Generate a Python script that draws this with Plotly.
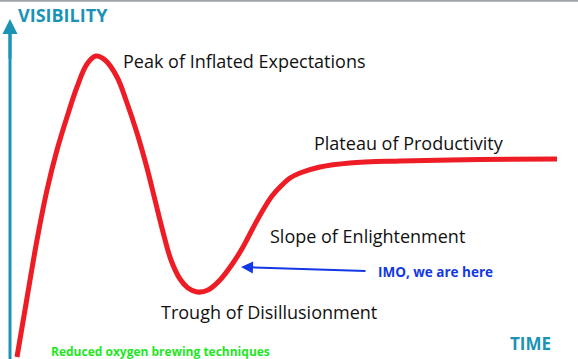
import plotly.graph_objects as go

W, H = 578, 359

# Hype curve (time, visibility-from-top in px)
time = [17, 27, 37, 47, 57, 67, 77, 87, 96, 105, 117, 127, 137, 147, 155, 163, 171,
        180, 188, 197, 208, 220, 233, 243, 253, 263, 272, 281, 290, 300, 320, 350, 400, 480, 557]
visibility_px = [357, 298, 240, 190, 150, 117, 87, 64, 56, 60, 77, 103, 133, 168, 200, 232, 260,
                 279, 288, 292, 290, 280, 263, 247, 228, 210, 196, 186, 178, 173, 167, 163, 161, 159.5, 159]
visibility = [H - v for v in visibility_px]

phase_labels = ["Peak of Inflated Expectations", "Plateau of Productivity",
                "Slope of Enlightenment", "Trough of Disillusionment"]
phase_x = [121, 312, 268, 159]
phase_y = [H - 61, H - 143, H - 236, H - 312]

TEAL = "#1A93B5"
RED = "#EE1C25"
BLUE = "#1238E6"
GREEN = "#22E622"

fig = go.Figure()
fig.add_trace(go.Scatter(x=time, y=visibility, mode="lines",
                         line=dict(color=RED, width=5, shape="spline", smoothing=1.0),
                         hoverinfo="skip", showlegend=False))

ann = []
for t, x, y in zip(phase_labels, phase_x, phase_y):
    ann.append(dict(x=x, y=y, text=t, showarrow=False, xanchor="left", yanchor="middle",
                    font=dict(family="Open Sans", size=18, color="#111111")))

ann += [
    dict(x=16, y=H - 15, text="<b>VISIBILITY</b>", showarrow=False, xanchor="left", yanchor="middle",
         font=dict(family="Open Sans", size=18, color=TEAL)),
    dict(x=508, y=H - 343, text="<b>TIME</b>", showarrow=False, xanchor="left", yanchor="middle",
         font=dict(family="Open Sans", size=17, color=TEAL)),
    dict(x=376, y=H - 272, text="<b>IMO, we are here</b>", showarrow=False, xanchor="left", yanchor="middle",
         font=dict(family="Open Sans", size=13.5, color=BLUE)),
    dict(x=49, y=H - 351, text="<b>Reduced oxygen brewing techniques</b>", showarrow=False,
         xanchor="left", yanchor="middle",
         font=dict(family="Open Sans", size=12, color=GREEN)),
    # vertical axis arrowhead
    dict(x=10, y=H - 19, ax=10, ay=H - 60, xref="x", yref="y", axref="x", ayref="y",
         showarrow=True, arrowhead=2, arrowsize=1, arrowwidth=3, arrowcolor=TEAL, text=""),
    # "we are here" arrow
    dict(x=241, y=H - 267, ax=367, ay=H - 271, xref="x", yref="y", axref="x", ayref="y",
         showarrow=True, arrowhead=2, arrowsize=1.2, arrowwidth=2, arrowcolor=BLUE, text=""),
]

fig.update_layout(
    width=W, height=H, autosize=False,
    margin=dict(l=0, r=0, t=0, b=0),
    paper_bgcolor="white", plot_bgcolor="white",
    xaxis=dict(range=[0, W], visible=False, fixedrange=True),
    yaxis=dict(range=[0, H], visible=False, fixedrange=True),
    annotations=ann,
    shapes=[
        dict(type="line", xref="paper", yref="paper", x0=0, x1=1, y0=0.998, y1=0.998,
             line=dict(color="#A0A4A8", width=2)),
        dict(type="line", xref="x", yref="y", x0=10, x1=10, y0=0, y1=H - 24,
             line=dict(color=TEAL, width=3)),
    ],
)

fig.write_html("out.html", config={"displayModeBar": False},
               post_script="document.body.style.margin='0';document.body.style.padding='0';")
